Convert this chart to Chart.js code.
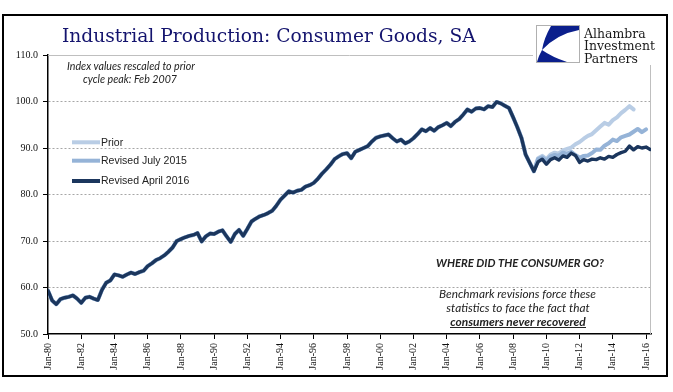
<!DOCTYPE html>
<html>
<head>
<meta charset="utf-8">
<script src="https://cdn.jsdelivr.net/npm/chart.js@4"></script>
<style>
  html, body { margin: 0; padding: 0; background: #fff; }
  #chart { display: block; }
</style>
</head>
<body>
<canvas id="chart" width="673" height="392"></canvas>
<script>
// quarterly readings, first point Jan-80
var startYear = 1980;
var stepYears = 0.25;

// all three vintages sit on top of each other until mid-2009
var sharedHistory = [
    59.3, 57.2, 56.4, 57.5,  57.8, 58.0, 58.3, 57.6,  56.7, 57.8, 58.0, 57.6,
    57.3, 59.5, 61.0, 61.5,  62.8, 62.6, 62.3, 62.8,  63.2, 62.9, 63.3, 63.6,
    64.6, 65.2, 65.9, 66.3,  66.9, 67.7, 68.6, 70.0,  70.4, 70.8, 71.1, 71.3,
    71.7, 69.9, 71.0, 71.6,  71.5, 72.0, 72.3, 71.0,  69.8, 71.5, 72.4, 71.1,
    72.6, 74.2, 74.8, 75.3,  75.6, 76.0, 76.5, 77.6,  78.9, 79.8, 80.7, 80.4,
    80.8, 81.0, 81.7, 82.0,  82.5, 83.4, 84.5, 85.4,  86.4, 87.6, 88.2, 88.7,
    88.9, 87.8, 89.2, 89.6,  90.0, 90.4, 91.4, 92.2,  92.5, 92.7, 92.9, 92.1,
    91.4, 91.8, 91.0, 91.4,  92.1, 93.0, 94.0, 93.6,  94.3, 93.7, 94.5, 94.9,
    95.4, 94.7, 95.6, 96.2,  97.2, 98.3, 97.8, 98.5,  98.6, 98.3, 99.0, 98.8,
    99.9, 99.6, 99.1, 98.6,  96.6, 94.5, 92.2, 88.6,  86.8, 85.0
];
// from Jul-09 on
var priorRecent = [
    87.8, 88.3,  87.6, 88.6, 89.0, 88.8,  89.5, 89.8, 90.1, 90.8,
    91.3, 92.0, 92.6, 93.0,  93.8, 94.6, 95.4, 95.0,  96.0, 96.6, 97.5, 98.2,
    99.0, 98.3
];
var july2015Recent = [
    87.6, 88.0,  87.3, 88.2, 88.5, 88.3,  89.0, 88.8, 89.2, 88.5,
    87.9, 88.3, 88.4, 88.9,  89.7, 89.6, 90.5, 91.0,  91.8, 91.5, 92.3, 92.6,
    92.9, 93.5, 94.1, 93.4,  94.0
];
var april2016Recent = [
    87.0, 87.6,  86.5, 87.5, 87.9, 87.4,  88.3, 88.0, 88.9, 88.4,
    86.9, 87.5, 87.2, 87.6,  87.5, 87.9, 87.6, 88.2,  88.0, 88.6, 89.0, 89.3,
    90.4, 89.6, 90.3, 90.0,  90.2, 89.7
];

var seriesNames = ['Prior', 'Revised July 2015', 'Revised April 2016'];
var seriesColors = ['#b9cde5', '#95b3d7', '#1b365d'];

var xTickYears = [1980, 1982, 1984, 1986, 1988, 1990, 1992, 1994, 1996, 1998,
                  2000, 2002, 2004, 2006, 2008, 2010, 2012, 2014, 2016];
var xTickLabels = ['Jan-80', 'Jan-82', 'Jan-84', 'Jan-86', 'Jan-88', 'Jan-90', 'Jan-92',
                   'Jan-94', 'Jan-96', 'Jan-98', 'Jan-00', 'Jan-02', 'Jan-04', 'Jan-06',
                   'Jan-08', 'Jan-10', 'Jan-12', 'Jan-14', 'Jan-16'];

function toPoints(values) {
    return values.map(function (v, i) {
        return { x: startYear + i * stepYears, y: v };
    });
}

// font size picked so the text spans the given width
function fitFont(ctx, text, style, family, width) {
    ctx.font = style + ' 10px ' + family;
    var w = ctx.measureText(text).width;
    return style + ' ' + (10 * width / w).toFixed(2) + 'px ' + family;
}

var decorations = {
    id: 'decorations',
    beforeDraw: function (chart) {
        var ctx = chart.ctx;
        ctx.save();
        ctx.fillStyle = '#fff';
        ctx.fillRect(0, 0, chart.width, chart.height);
        ctx.restore();
    },
    beforeDatasetsDraw: function (chart) {
        var ctx = chart.ctx, a = chart.chartArea;
        ctx.save();
        ctx.strokeStyle = '#bfbfbf';
        ctx.lineWidth = 1;
        ctx.beginPath();
        ctx.moveTo(a.left, a.top + 0.5);
        ctx.lineTo(a.right, a.top + 0.5);
        ctx.moveTo(a.right - 0.5, a.top);
        ctx.lineTo(a.right - 0.5, a.bottom);
        ctx.stroke();
        ctx.restore();
    },
    afterDraw: function (chart) {
        var ctx = chart.ctx;
        ctx.save();

        // outer frame
        ctx.strokeStyle = '#000';
        ctx.lineWidth = 2;
        ctx.strokeRect(3, 15, 664, 361);

        // title
        var title = 'Industrial Production: Consumer Goods, SA';
        ctx.fillStyle = '#14146e';
        ctx.font = fitFont(ctx, title, 'normal', '"DejaVu Serif"', 414);
        ctx.textAlign = 'left';
        ctx.textBaseline = 'alphabetic';
        ctx.fillText(title, 62, 41.5);

        // logo
        ctx.fillStyle = '#fff';
        ctx.fillRect(533, 17, 130, 48);
        ctx.strokeStyle = '#b0b0b0';
        ctx.lineWidth = 1;
        ctx.strokeRect(536.5, 25.5, 43, 37);
        ctx.fillStyle = '#0b1f8c';
        ctx.beginPath();
        ctx.moveTo(551, 26);
        ctx.lineTo(579, 26);
        ctx.lineTo(579, 30);
        ctx.quadraticCurveTo(557, 34, 542, 50);
        ctx.quadraticCurveTo(544, 38, 551, 26);
        ctx.fill();
        ctx.beginPath();
        ctx.moveTo(542, 50);
        ctx.quadraticCurveTo(552, 57, 567, 62);
        ctx.lineTo(537, 62);
        ctx.quadraticCurveTo(539, 55, 542, 50);
        ctx.fill();
        ctx.fillStyle = '#1a1a1a';
        ctx.font = fitFont(ctx, 'Investment', 'normal', '"DejaVu Serif"', 71);
        ctx.fillText('Alhambra', 584, 37.5);
        ctx.fillText('Investment', 584, 50);
        ctx.fillText('Partners', 584, 62.5);

        // note under the title
        ctx.fillStyle = '#222';
        ctx.textAlign = 'center';
        ctx.textBaseline = 'middle';
        ctx.font = fitFont(ctx, 'Index values rescaled to prior', 'italic', 'Lato', 128);
        ctx.fillText('Index values rescaled to prior', 131, 66.7);
        ctx.fillText('cycle peak: Feb 2007', 130, 79.3);

        // legend
        var legendY = [142.3, 160.7, 181];
        chart.data.datasets.forEach(function (ds, i) {
            ctx.strokeStyle = ds.borderColor;
            ctx.lineWidth = 4;
            ctx.beginPath();
            ctx.moveTo(72, legendY[i]);
            ctx.lineTo(100, legendY[i]);
            ctx.stroke();
        });
        ctx.fillStyle = '#222';
        ctx.textAlign = 'left';
        ctx.font = fitFont(ctx, 'Revised July 2015', 'normal', '"Liberation Sans"', 86);
        chart.data.datasets.forEach(function (ds, i) {
            ctx.fillText(ds.label, 101, legendY[i] + 0.5);
        });

        // comments, lower right
        ctx.textAlign = 'center';
        ctx.font = fitFont(ctx, 'WHERE DID THE CONSUMER GO?', 'italic bold', 'Lato', 168);
        ctx.fillText('WHERE DID THE CONSUMER GO?', 520, 263.3);

        ctx.font = fitFont(ctx, 'Benchmark revisions force these', 'italic', 'Lato', 157);
        ctx.fillText('Benchmark revisions force these', 517.5, 294);
        ctx.fillText('statistics to face the fact that', 518, 308.3);
        var last = 'consumers never recovered';
        ctx.font = fitFont(ctx, last, 'italic bold', 'Lato', 135.5);
        ctx.fillText(last, 518, 321.7);
        ctx.strokeStyle = '#222';
        ctx.lineWidth = 1;
        ctx.beginPath();
        ctx.moveTo(450, 327.5);
        ctx.lineTo(586, 327.5);
        ctx.stroke();

        ctx.restore();
    }
};

var datasets = [
    { label: seriesNames[0], data: toPoints(sharedHistory.concat(priorRecent)), borderColor: seriesColors[0], borderWidth: 4, order: 3 },
    { label: seriesNames[1], data: toPoints(sharedHistory.concat(july2015Recent)), borderColor: seriesColors[1], borderWidth: 4, order: 2 },
    { label: seriesNames[2], data: toPoints(sharedHistory.concat(april2016Recent)), borderColor: seriesColors[2], borderWidth: 3.4, order: 1 }
];

var ctx = document.getElementById('chart').getContext('2d');
var chart = new Chart(ctx, {
    type: 'line',
    data: { datasets: datasets },
    options: {
        responsive: false,
        animation: false,
        devicePixelRatio: 1,
        layout: { padding: { left: 0, right: 22, top: 55, bottom: 0 } },
        elements: {
            point: { radius: 0 },
            line: { tension: 0, borderJoinStyle: 'round', borderCapStyle: 'round' }
        },
        plugins: {
            legend: { display: false },
            tooltip: { enabled: false }
        },
        scales: {
            x: {
                type: 'linear',
                min: 1980,
                max: 2016.3,
                afterBuildTicks: function (scale) {
                    scale.ticks = xTickYears.map(function (v) { return { value: v }; });
                },
                afterFit: function (scale) { scale.height = 58; },
                ticks: {
                    autoSkip: false,
                    maxRotation: 90,
                    minRotation: 90,
                    padding: 4,
                    color: '#111',
                    font: { family: '"Liberation Serif"', size: 10 },
                    callback: function (value, index) { return xTickLabels[index]; }
                },
                grid: { drawOnChartArea: false, tickLength: 5, tickColor: '#000' },
                border: { color: '#000', width: 1.5 }
            },
            y: {
                min: 50,
                max: 110,
                afterFit: function (scale) { scale.width = 48; },
                ticks: {
                    stepSize: 10,
                    padding: 5,
                    color: '#111',
                    font: { family: '"Liberation Serif"', size: 10 },
                    callback: function (value) { return value.toFixed(1); }
                },
                grid: {
                    color: function (c) {
                        var v = c.tick && c.tick.value;
                        return (v === 50 || v === 110) ? 'rgba(0,0,0,0)' : '#a6a6a6';
                    },
                    tickLength: 5,
                    tickColor: '#000'
                },
                border: { color: '#000', width: 1.5, dash: [2, 2] }
            }
        }
    },
    plugins: [decorations]
});
</script>
</body>
</html>
